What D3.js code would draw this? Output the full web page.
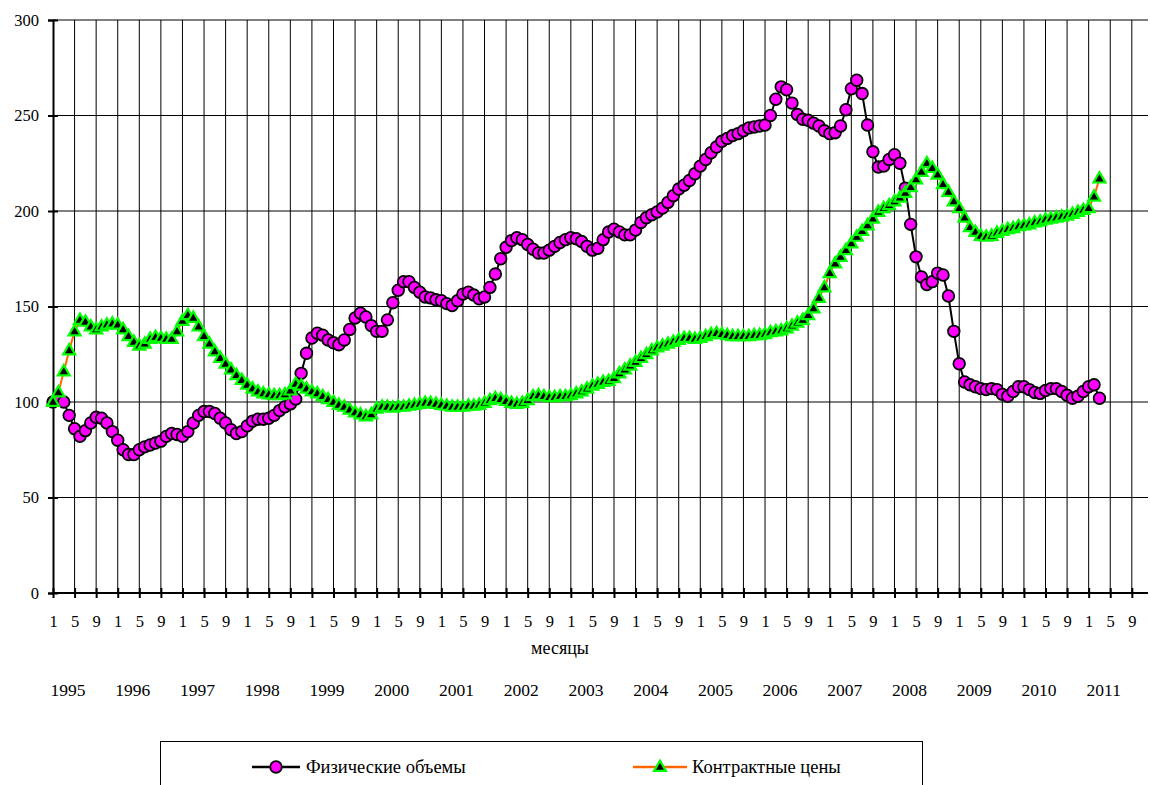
<!DOCTYPE html>
<html lang="ru">
<head>
<meta charset="UTF-8">
<title>Физические объемы и контрактные цены</title>
<script src="https://cdn.jsdelivr.net/npm/d3@7"></script>
<style>
    body { margin:0; background:#fff; }
    .grid line { stroke:#000; stroke-width:1px; }
    .axis path, .axis line { stroke:#000; stroke-width:2px; }
</style>
</head>
<body>
<div id="chart"></div>
<script>
// индексы 1995=100, помесячно с января 1995 по март 2011
var volumes = [
  100,101,100,93,86,82,85,89,92,91.5,89,84.5,
  80,75,72.5,72.5,75,76.5,77.5,78.5,79.5,82,83.5,83,
  82,84.5,89,93,95,95,94,91.5,89,85.5,83.5,84.5,
  87.5,90,91,91,91.5,93,95.5,97.5,99,101.5,115,125.5,
  133.5,136,135,132.5,131,130,132.5,138,144,146.5,144.5,140,
  137,137,143,152,158.5,163,163,160,157.5,155,154.5,153.5,
  153,151.5,150.5,153,156.5,157.5,156,154,155,160,167,175,
  181,184.5,186,185,182.5,180,178,178,179.5,181.5,183.5,185,
  186,185.5,184,181.5,179.5,180.5,185,189,190.5,189,187.5,187.5,
  190,194,196.5,198,199.5,201.5,204.5,208,211.5,213.5,216,219.5,
  223.5,227,230.5,233.5,236.5,238,239.5,240.5,242,243.5,244,244.5,
  245,250,258.5,265,263.5,256.5,250.5,248,247.5,246,244.5,242,
  240.5,241,244.5,253,264,268.5,261.5,245,231,223,223.5,227,
  229.5,225,212,193,176,165.5,161.5,163,167.5,166.5,155.5,137,
  120,110.5,109,108,107,106.5,107,106.5,104,103,105.5,108,
  108,106.5,105,104.5,106,107,107,105.5,103.5,102,103,105.5,
  108,109,102
];
var prices = [
  100,105,116,127,137,143,142,139.5,138,139.5,140.5,141,
  140.5,138,134.5,131.5,129.5,130.5,133,134,133.5,133,133,137,
  142.5,145.5,144,139.5,134.5,130.5,126.5,123,120,117,114,111.5,
  109,107,105.5,104.5,104,103.5,103.5,104,106,109.5,108.5,107,
  105.5,104.5,103,101.5,100,98.5,97.5,96,94.5,93.5,92.5,93.5,
  96.5,97.5,97.5,97,97.5,97.5,98,98.5,99,99.5,99.5,99,
  98.5,98,97.5,97.5,97.5,98,98,98.5,99.5,101,102,101.5,
  100.5,99.5,99,99.5,101,103,103.5,103,102.5,102.5,103,103,
  103.5,104.5,105.5,107,108.5,109.5,110.5,111,112.5,115,117,119,
  121,123,125,127,128.5,129.5,130.5,131.5,132.5,133.5,133.5,133,
  133.5,134.5,135.5,136,135.5,135,134.5,134.5,134.5,134.5,135,135,
  135.5,136.5,137,137.5,138.5,140,141.5,143,145.5,149,154.5,160,
  167.5,172.5,176,179.5,183,186.5,189.5,192.5,196,199.5,201.5,203,
  205,207,209.5,212.5,216.5,220.5,225,222.5,219,214,210,205,
  201.5,196.5,191.5,189,187,186.5,187,188.5,189.5,190.5,191,192,
  192.5,193,194,194.5,195.5,196,196.5,197,197.5,198.5,199.5,200.5,
  201.5,207.5,217
];
var monthLabels = ["1", "5", "9"];
var years = ["1995","1996","1997","1998","1999","2000","2001","2002","2003",
             "2004","2005","2006","2007","2008","2009","2010","2011"];
var seriesNames = ["Физические объемы", "Контрактные цены"];
var yTicks = [0, 50, 100, 150, 200, 250, 300];

var FONT = "'Liberation Serif', 'Times New Roman', serif";
var W = 1150, H = 785;
var svg = d3.select("#chart").append("svg").attr("width", W).attr("height", H)
    .attr("font-family", FONT);

var x = d3.scaleLinear().domain([0, 203]).range([53, 1148]);
var y = d3.scaleLinear().domain([0, 300]).range([593, 20]);
var monthTicks = d3.range(0, 204, 4);

// сетка
var grid = svg.append("g").attr("class", "grid");
grid.selectAll(".h").data(yTicks.slice(1)).enter().append("line")
    .attr("x1", x(0)).attr("x2", x(203))
    .attr("y1", d => y(d)).attr("y2", d => y(d));
grid.selectAll(".v").data(monthTicks.slice(1)).enter().append("line")
    .attr("x1", d => x(d)).attr("x2", d => x(d))
    .attr("y1", y(0)).attr("y2", y(300));

// оси
var xAxis = svg.append("g").attr("class", "axis")
    .attr("transform", "translate(0," + y(0) + ")")
    .call(d3.axisBottom(x).tickValues(monthTicks).tickSizeOuter(0).tickSize(5).tickPadding(17)
        .tickFormat(d => monthLabels[(d % 12) / 4]));
xAxis.attr("font-family", FONT).attr("font-size", 16.5);
xAxis.selectAll(".tick line").attr("y1", -5);
xAxis.select(".domain").attr("d", "M" + x(0) + ",0H" + x(203));

var yAxis = svg.append("g").attr("class", "axis")
    .attr("transform", "translate(" + x(0) + ",0)")
    .call(d3.axisLeft(y).tickValues(yTicks).tickSizeOuter(0).tickSize(5).tickPadding(9));
yAxis.attr("font-family", FONT).attr("font-size", 16.5);
yAxis.selectAll(".tick line").attr("x1", 5);

svg.append("text").attr("x", 560).attr("y", 654).attr("text-anchor", "middle")
    .attr("font-size", 18).text("месяцы");

svg.append("g").selectAll("text").data(years).enter().append("text")
    .attr("x", (d, i) => x(i * 12 + 2.8)).attr("y", 696)
    .attr("text-anchor", "middle").attr("font-size", 17.5).text(d => d);

// линии
var line = d3.line().x((d, i) => x(i)).y(d => y(d));

svg.append("path").datum(volumes).attr("d", line)
    .attr("fill", "none").attr("stroke", "#000").attr("stroke-width", 2);
svg.append("g").selectAll("circle").data(volumes).enter().append("circle")
    .attr("cx", (d, i) => x(i)).attr("cy", d => y(d)).attr("r", 5.8)
    .attr("fill", "#ff00ff").attr("stroke", "#000").attr("stroke-width", 1.8);

var tri = d3.symbol().type(d3.symbolTriangle).size(62);
svg.append("path").datum(prices).attr("d", line)
    .attr("fill", "none").attr("stroke", "#ff6600").attr("stroke-width", 2);
svg.append("g").selectAll("path").data(prices).enter().append("path")
    .attr("d", tri)
    .attr("transform", (d, i) => "translate(" + x(i) + "," + (y(d) + 0.5) + ")")
    .attr("fill", "#000").attr("stroke", "#00ff00").attr("stroke-width", 2.2);

// легенда
var lg = svg.append("g");
lg.append("rect").attr("x", 160.5).attr("y", 741.5).attr("width", 762).attr("height", 70)
    .attr("fill", "#fff").attr("stroke", "#000").attr("stroke-width", 1);
lg.append("line").attr("x1", 252).attr("x2", 300).attr("y1", 767).attr("y2", 767)
    .attr("stroke", "#000").attr("stroke-width", 2.5);
lg.append("circle").attr("cx", 276).attr("cy", 767).attr("r", 5.8)
    .attr("fill", "#ff00ff").attr("stroke", "#000").attr("stroke-width", 1.8);
lg.append("text").attr("x", 306).attr("y", 773).attr("font-size", 18.5).text(seriesNames[0]);
lg.append("line").attr("x1", 633).attr("x2", 687).attr("y1", 767).attr("y2", 767)
    .attr("stroke", "#ff6600").attr("stroke-width", 2.5);
lg.append("path").attr("d", tri).attr("transform", "translate(660,767.5)")
    .attr("fill", "#000").attr("stroke", "#00ff00").attr("stroke-width", 2.2);
lg.append("text").attr("x", 692).attr("y", 773).attr("font-size", 18.5).text(seriesNames[1]);
</script>
</body>
</html>
